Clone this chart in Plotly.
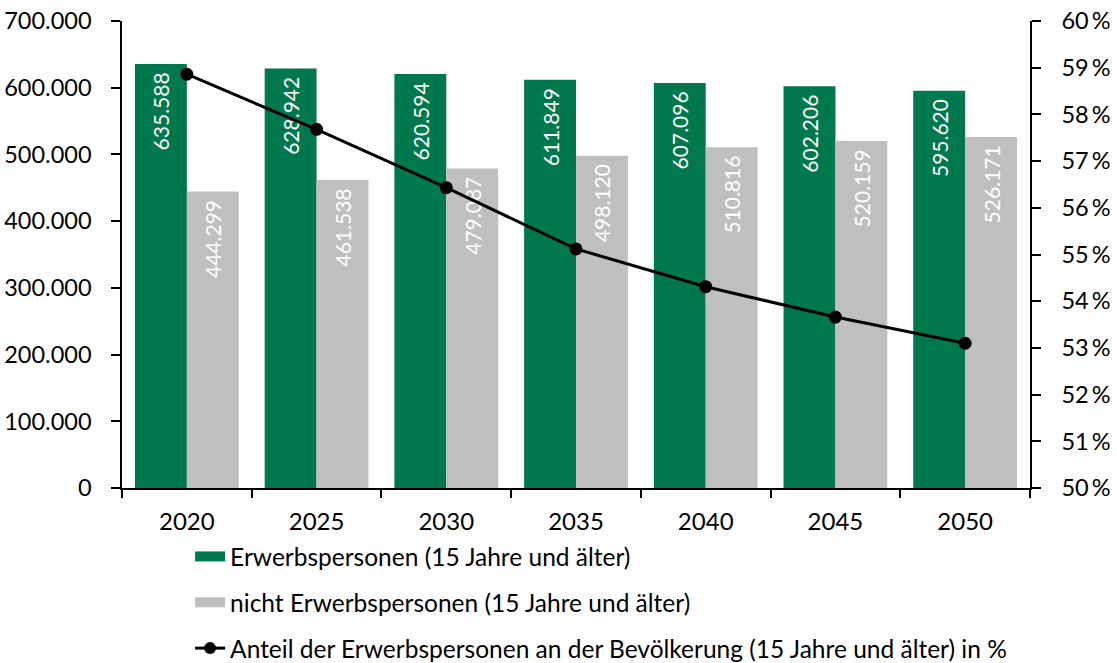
import plotly.graph_objects as go

years = ["2020", "2025", "2030", "2035", "2040", "2045", "2050"]
erwerb = [635588, 628942, 620594, 611849, 607096, 602206, 595620]
nicht_erwerb = [444299, 461538, 479087, 498120, 510816, 520159, 526171]
anteil = [58.86, 57.68, 56.43, 55.12, 54.31, 53.66, 53.10]

names = ["Erwerbspersonen (15 Jahre und älter)",
         "nicht Erwerbspersonen (15 Jahre und älter)",
         "Anteil der Erwerbspersonen an der Bevölkerung (15 Jahre und älter) in %"]

GREEN = "#00784E"
GREY = "#BFBFBF"
FONT = "Lato, Carlito, Calibri, sans-serif"

def fmt(v):
    return f"{v:,}".replace(",", ".") + "\u00a0"

fig = go.Figure()
fig.add_trace(go.Bar(x=years, y=erwerb, name=names[0], marker_color=GREEN,
                     marker_line_width=0, showlegend=False,
                     text=[fmt(v) for v in erwerb], textposition="inside",
                     insidetextanchor="end", textangle=-90,
                     textfont=dict(color="white", size=21, family=FONT)))
fig.add_trace(go.Bar(x=years, y=nicht_erwerb, name=names[1], marker_color=GREY,
                     marker_line_width=0, showlegend=False,
                     text=[fmt(v) for v in nicht_erwerb], textposition="inside",
                     insidetextanchor="end", textangle=-90,
                     textfont=dict(color="white", size=21, family=FONT)))
fig.add_trace(go.Scatter(x=years, y=anteil, name=names[2], yaxis="y2",
                         mode="lines+markers",
                         line=dict(color="black", width=3),
                         marker=dict(color="black", size=13),
                         showlegend=False))

# legend entries
fig.add_trace(go.Scatter(x=[None], y=[None], mode="lines", name=names[0],
                         line=dict(color=GREEN, width=14), legendgroup="a"))
fig.add_trace(go.Scatter(x=[None], y=[None], mode="lines", name=names[1],
                         line=dict(color=GREY, width=14), legendgroup="b"))
fig.add_trace(go.Scatter(x=[None], y=[None], mode="lines+markers", name=names[2],
                         line=dict(color="black", width=3),
                         marker=dict(color="black", size=12), legendgroup="c"))

fig.update_layout(
    width=1117, height=663,
    margin=dict(l=122, r=87, t=21, b=175, autoexpand=False),
    plot_bgcolor="white", paper_bgcolor="white",
    font=dict(family=FONT, size=24, color="black"),
    separators=",.",
    barmode="group", bargap=0.2, bargroupgap=0,
    uniformtext=dict(mode="show", minsize=21),
    showlegend=True,
    legend=dict(orientation="v", x=0.075, xanchor="left", y=-0.0985, yanchor="top",
                font=dict(size=24.5, family=FONT), tracegroupgap=11,
                traceorder="grouped", itemwidth=30, bgcolor="rgba(0,0,0,0)"),
    xaxis=dict(showline=True, linecolor="black", linewidth=1.5,
               ticks="outside", tickson="boundaries", ticklen=8,
               tickcolor="black", tickwidth=1.5, showgrid=False,
               ticklabelstandoff=11, tickfont=dict(size=24)),
    yaxis=dict(range=[0, 700000], dtick=100000, tickformat=",d",
               showline=True, linecolor="black", linewidth=1.5,
               ticks="outside", ticklen=9, tickcolor="black", tickwidth=1.5,
               showgrid=False, zeroline=False, ticklabelstandoff=15,
               tickfont=dict(size=23.5)),
    yaxis2=dict(range=[50, 60], dtick=1, ticksuffix="\u2009%", overlaying="y",
                side="right", showline=True, linecolor="black", linewidth=1.5,
                ticks="outside", ticklen=9, tickcolor="black", tickwidth=1.5,
                showgrid=False, zeroline=False, ticklabelstandoff=16,
                tickfont=dict(size=23.5)),
)

fig.write_html("out.html", config={"displayModeBar": False},
               post_script="document.body.style.margin='0';document.body.style.padding='0';")
